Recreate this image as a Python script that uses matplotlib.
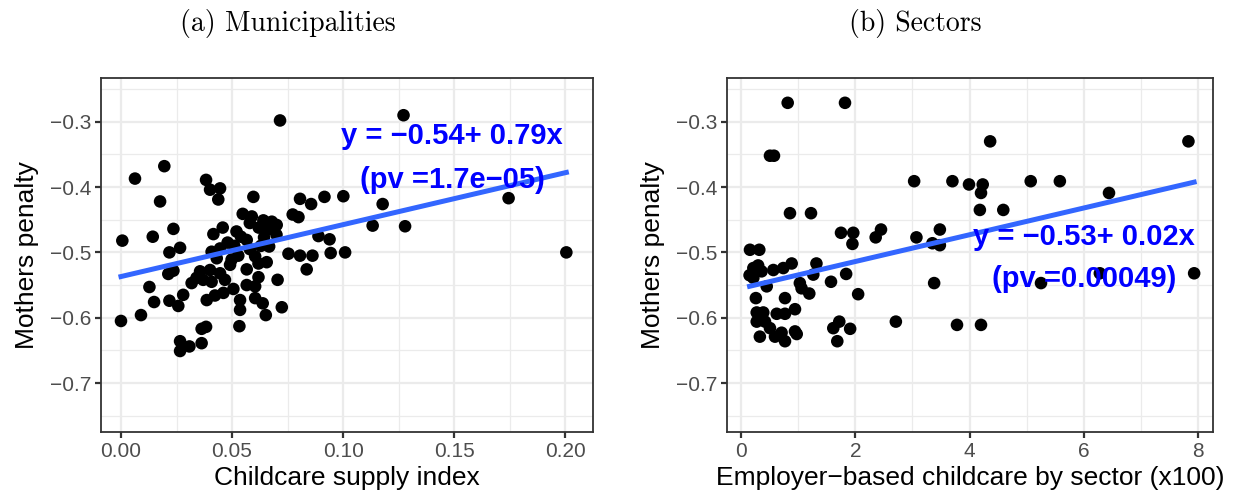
import numpy as np
import matplotlib
matplotlib.use("Agg")
import matplotlib.pyplot as plt

# panel (a): municipalities
muni_x = [0.0716, 0.0063, 0.0195, 0.0176, 0.0006, 0.0143, 0.0236, 0.0218, 0.0266, 0.0383,
          0.0401, 0.0446, 0.0438, 0.0596, 0.0806, 0.0856, 0.0916, 0.1001, 0.0773, 0.0799,
          0.0548, 0.0589, 0.0641, 0.0679, 0.0701, 0.0416, 0.0458, 0.0520, 0.0540, 0.0566,
          0.0644, 0.0700, 0.0889, 0.0939, 0.0754, 0.0806, 0.0862, 0.0944, 0.1009, 0.0408,
          0.0446, 0.0431, 0.0836, 0.0705, 0.0667, 0.0604, 0.0656, 0.0619, 0.0566, 0.0498,
          0.0528, 0.0491, 0.0356, 0.0401, 0.0446, 0.0340, 0.0370, 0.0408, 0.0468, 0.0318,
          0.0236, 0.0213, 0.0128, 0.0149, 0.0218, 0.0258, 0.0280, 0.0386, 0.0423, 0.0461,
          0.0506, 0.0566, 0.0604, 0.0619, 0.0536, 0.0604, 0.0638, 0.0536, 0.0724, 0.0652,
          0.0090, 0.0000, 0.0533, 0.0363, 0.0383, 0.0363, 0.0266, 0.0308, 0.0266, 0.1272,
          0.1178, 0.1133, 0.1279, 0.1745, 0.2005, 0.0580, 0.0620, 0.0660, 0.0480, 0.0510,
          0.0580, 0.0630]
muni_y = [-0.298, -0.387, -0.368, -0.422, -0.482, -0.476, -0.464, -0.500, -0.493, -0.389,
          -0.404, -0.402, -0.419, -0.415, -0.418, -0.426, -0.415, -0.414, -0.442, -0.446,
          -0.441, -0.445, -0.451, -0.453, -0.458, -0.472, -0.462, -0.468, -0.476, -0.481,
          -0.477, -0.473, -0.475, -0.480, -0.502, -0.505, -0.505, -0.501, -0.500, -0.499,
          -0.494, -0.509, -0.526, -0.542, -0.491, -0.506, -0.515, -0.517, -0.526, -0.511,
          -0.505, -0.519, -0.529, -0.527, -0.532, -0.539, -0.542, -0.545, -0.542, -0.547,
          -0.528, -0.533, -0.553, -0.576, -0.574, -0.582, -0.565, -0.573, -0.566, -0.562,
          -0.556, -0.550, -0.552, -0.538, -0.573, -0.570, -0.578, -0.588, -0.584, -0.596,
          -0.596, -0.605, -0.613, -0.617, -0.614, -0.639, -0.636, -0.644, -0.651, -0.290,
          -0.426, -0.459, -0.460, -0.417, -0.500, -0.455, -0.462, -0.465, -0.485, -0.490,
          -0.495, -0.490]

# panel (b): sectors
sect_x = [0.817, 1.82, 0.507, 0.577, 0.857, 1.225, 3.03, 3.70, 3.99, 0.157,
          0.32, 1.75, 1.965, 1.95, 2.357, 2.45, 3.07, 3.35, 3.48, 3.48,
          4.36, 7.83, 4.23, 4.20, 4.18, 4.59, 5.07, 5.58, 6.44, 5.25,
          6.28, 7.93, 4.20, 3.78, 0.216, 0.36, 0.216, 0.566, 0.74, 0.887,
          0.45, 1.03, 1.06, 1.195, 1.32, 1.265, 1.575, 1.84, 2.05, 3.38,
          0.26, 0.77, 0.945, 0.275, 0.39, 0.625, 0.77, 0.275, 0.42, 0.507,
          0.33, 0.595, 0.71, 0.77, 0.945, 0.975, 1.615, 1.72, 1.91, 1.685,
          2.71, 0.15, 0.30]
sect_y = [-0.271, -0.271, -0.352, -0.352, -0.440, -0.440, -0.391, -0.391, -0.396, -0.496,
          -0.496, -0.470, -0.470, -0.487, -0.477, -0.465, -0.477, -0.486, -0.489, -0.465,
          -0.330, -0.330, -0.396, -0.409, -0.435, -0.435, -0.391, -0.391, -0.409, -0.547,
          -0.532, -0.532, -0.611, -0.611, -0.524, -0.529, -0.539, -0.527, -0.524, -0.517,
          -0.552, -0.547, -0.555, -0.563, -0.517, -0.534, -0.545, -0.533, -0.564, -0.547,
          -0.570, -0.570, -0.587, -0.592, -0.592, -0.594, -0.594, -0.606, -0.606, -0.616,
          -0.629, -0.629, -0.623, -0.636, -0.621, -0.625, -0.616, -0.606, -0.617, -0.636,
          -0.606, -0.535, -0.520]

# fitted lines (as drawn)
muni_fit = (-0.537, 0.795)
sect_fit = (-0.555, 0.0205)

titles = ["(a) Municipalities", "(b) Sectors"]
xlabels = ["Childcare supply index", "Employer\u2212based childcare by sector (x100)"]
ylabel = "Mothers penalty"
eq_text = [("y = \u22120.54+ 0.79x", "(pv =1.7e\u221205)"),
           ("y = \u22120.53+ 0.02x", "(pv =0.00049)")]

yticks = [-0.7, -0.6, -0.5, -0.4, -0.3]
ytick_labels = ["\u22120.7", "\u22120.6", "\u22120.5", "\u22120.4", "\u22120.3"]
a_xticks = [0.0, 0.05, 0.10, 0.15, 0.20]
a_xtick_labels = ["0.00", "0.05", "0.10", "0.15", "0.20"]
b_xticks = [0, 2, 4, 6, 8]
b_xtick_labels = ["0", "2", "4", "6", "8"]

plt.rcParams['font.family'] = ['Liberation Sans', 'DejaVu Sans']

fig = plt.figure(figsize=(12.4, 4.99), dpi=100)
ax_a = fig.add_axes([101/1240, 67/499, 492/1240, 354/499])
ax_b = fig.add_axes([727/1240, 67/499, 486/1240, 354/499])


def style(ax, xt, xtl, minor_x):
    ax.set_facecolor("white")
    ax.set_yticks(yticks)
    ax.set_yticklabels(ytick_labels)
    ax.set_xticks(xt)
    ax.set_xticklabels(xtl)
    ax.set_xticks(minor_x, minor=True)
    ax.set_yticks([-0.75, -0.65, -0.55, -0.45, -0.35, -0.25], minor=True)
    ax.grid(which="major", color="#EBEBEB", lw=1.6, zorder=0)
    ax.grid(which="minor", color="#EBEBEB", lw=0.9, zorder=0)
    ax.set_axisbelow(True)
    ax.tick_params(which="major", length=4, width=1.6, color="#333333",
                   labelsize=15, labelcolor="#4D4D4D", pad=3)
    ax.tick_params(which="minor", length=0)
    for s in ax.spines.values():
        s.set_color("#333333")
        s.set_linewidth(1.3)
    ax.set_ylim(-0.775, -0.233)
    ax.set_ylabel(ylabel, fontsize=19, labelpad=8)


def panel(ax, x, y, fit, texts, tx, ty):
    x = np.array(x)
    y = np.array(y)
    ax.scatter(x, y, s=82, color="black", edgecolors="none", zorder=3)
    xs = np.array([x.min(), x.max()])
    ax.plot(xs, fit[0] + fit[1] * xs, color="#3366FF", lw=3.6, zorder=4)
    ax.text(tx, ty[0], texts[0], color="blue", fontsize=21, fontweight="bold",
            ha="center", va="center", zorder=5)
    ax.text(tx, ty[1], texts[1], color="blue", fontsize=21, fontweight="bold",
            ha="center", va="center", zorder=5)


style(ax_a, a_xticks, a_xtick_labels, [0.025, 0.075, 0.125, 0.175])
panel(ax_a, muni_x, muni_y, muni_fit, eq_text[0], 0.149, (-0.3225, -0.389))
ax_a.set_xlim(-0.009, 0.2125)
ax_a.set_xlabel(xlabels[0], fontsize=19, labelpad=4)

style(ax_b, b_xticks, b_xtick_labels, [1, 3, 5, 7])
panel(ax_b, sect_x, sect_y, sect_fit, eq_text[1], 6.0, (-0.476, -0.540))
ax_b.set_xlim(-0.245, 8.26)
ax_b.set_xlabel(xlabels[1], fontsize=19, labelpad=4)

fig.text(288/1240, 1 - 24/499, titles[0], fontsize=20, family="cmr10",
         ha="center", va="center")
fig.text(915/1240, 1 - 24/499, titles[1], fontsize=20, family="cmr10",
         ha="center", va="center")

fig.savefig("out.png", dpi=100)
